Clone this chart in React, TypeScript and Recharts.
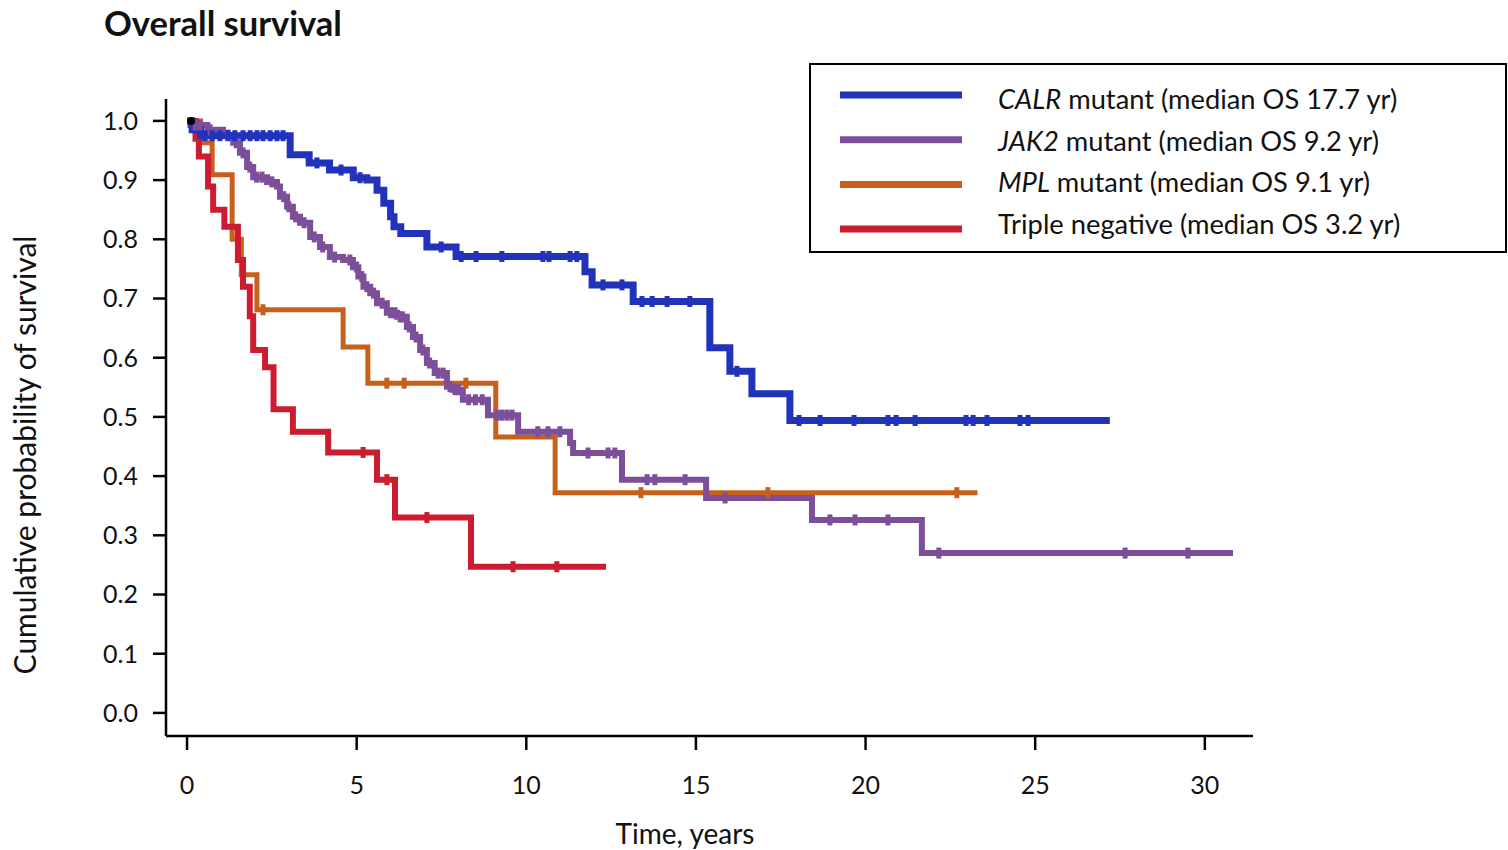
import React from 'react';
import { ComposedChart, Line, Scatter, XAxis, YAxis, Label, ReferenceDot } from 'recharts';

// ---- data (time in years, cumulative survival) ----
const calrSteps = [
  { t: 0, s: 1 }, { t: 0.15, s: 0.985 }, { t: 0.4, s: 0.975 }, { t: 3.04, s: 0.943 },
  { t: 3.6, s: 0.929 }, { t: 4.2, s: 0.917 }, { t: 4.9, s: 0.904 }, { t: 5.3, s: 0.9 },
  { t: 5.6, s: 0.883 }, { t: 5.8, s: 0.861 }, { t: 6.0, s: 0.838 }, { t: 6.1, s: 0.821 },
  { t: 6.3, s: 0.81 }, { t: 7.07, s: 0.787 }, { t: 7.93, s: 0.771 }, { t: 11.73, s: 0.745 },
  { t: 11.94, s: 0.723 }, { t: 13.15, s: 0.695 }, { t: 15.41, s: 0.617 }, { t: 16.0, s: 0.577 },
  { t: 16.65, s: 0.539 }, { t: 17.77, s: 0.494 }, { t: 27.2, s: 0.494 },
];
const calrCensor = [
  0.53, 0.74, 0.97, 1.21, 1.41, 1.65, 1.86, 2.06, 2.24, 2.45, 2.65, 2.83, 3.83, 4.54, 5.1,
  7.49, 8.08, 8.52, 9.28, 10.49, 10.67, 11.29, 11.49, 12.26, 12.82, 13.41, 13.71, 14.15, 14.82,
  16.21, 18.04, 18.66, 19.66, 20.66, 20.9, 21.46, 22.96, 23.17, 23.58, 24.55, 24.79,
];

const jak2Steps = [
  { t: 0, s: 1 }, { t: 0.1, s: 0.993 }, { t: 0.6, s: 0.985 }, { t: 1.06, s: 0.976 },
  { t: 1.36, s: 0.963 }, { t: 1.56, s: 0.946 }, { t: 1.77, s: 0.922 }, { t: 1.95, s: 0.905 },
  { t: 2.36, s: 0.897 }, { t: 2.65, s: 0.889 }, { t: 2.74, s: 0.872 }, { t: 2.95, s: 0.855 },
  { t: 3.12, s: 0.838 }, { t: 3.33, s: 0.828 }, { t: 3.63, s: 0.804 }, { t: 3.92, s: 0.787 },
  { t: 4.21, s: 0.77 }, { t: 4.6, s: 0.765 }, { t: 4.89, s: 0.753 }, { t: 5.05, s: 0.737 },
  { t: 5.2, s: 0.72 }, { t: 5.4, s: 0.709 }, { t: 5.6, s: 0.692 }, { t: 5.89, s: 0.676 },
  { t: 6.19, s: 0.669 }, { t: 6.48, s: 0.652 }, { t: 6.66, s: 0.635 }, { t: 6.87, s: 0.613 },
  { t: 7.07, s: 0.591 }, { t: 7.3, s: 0.574 }, { t: 7.66, s: 0.551 }, { t: 7.84, s: 0.546 },
  { t: 8.13, s: 0.529 }, { t: 8.87, s: 0.503 }, { t: 9.76, s: 0.475 }, { t: 11.29, s: 0.456 },
  { t: 11.38, s: 0.439 }, { t: 12.82, s: 0.394 }, { t: 15.3, s: 0.363 }, { t: 18.42, s: 0.326 },
  { t: 21.66, s: 0.27 }, { t: 30.83, s: 0.27 },
];
const jak2Censor = [
  0.24, 0.38, 0.68, 1.2, 1.45, 1.65, 1.85, 2.05, 2.21, 2.5, 2.85, 3.0, 3.2, 3.45, 3.75, 4.0,
  4.35, 4.8, 5.0, 5.15, 5.3, 5.5, 5.75, 6.0, 6.13, 6.28, 6.35, 6.55, 6.75, 6.95, 7.15, 7.4,
  7.55, 7.75, 7.9, 8.0, 8.3, 8.5, 8.7, 9.14, 9.28, 9.43, 9.58, 10.34, 10.64, 10.99,
  11.82, 12.41, 12.61, 13.56, 13.79, 14.68, 15.86, 18.95, 19.69, 20.66, 22.16, 27.65, 29.5,
];

const mplSteps = [
  { t: 0, s: 1 }, { t: 0.4, s: 0.963 }, { t: 0.74, s: 0.909 }, { t: 1.33, s: 0.8 },
  { t: 1.6, s: 0.74 }, { t: 2.06, s: 0.681 }, { t: 4.6, s: 0.618 }, { t: 5.33, s: 0.557 },
  { t: 9.1, s: 0.466 }, { t: 10.85, s: 0.372 }, { t: 23.3, s: 0.372 },
];
const mplCensor = [2.24, 5.89, 6.4, 8.22, 13.38, 17.12, 22.69];

const tnSteps = [
  { t: 0, s: 1 }, { t: 0.25, s: 0.97 }, { t: 0.35, s: 0.94 }, { t: 0.62, s: 0.889 },
  { t: 0.77, s: 0.85 }, { t: 1.1, s: 0.821 }, { t: 1.5, s: 0.765 }, { t: 1.65, s: 0.72 },
  { t: 1.85, s: 0.67 }, { t: 1.95, s: 0.613 }, { t: 2.3, s: 0.584 }, { t: 2.55, s: 0.513 },
  { t: 3.12, s: 0.475 }, { t: 4.16, s: 0.44 }, { t: 5.6, s: 0.394 }, { t: 6.13, s: 0.33 },
  { t: 8.37, s: 0.247 }, { t: 12.35, s: 0.247 },
];
const tnCensor = [5.19, 5.89, 7.07, 9.61, 10.9];

const xTicks = [0, 5, 10, 15, 20, 25, 30];
const yTicks = [0, 0.1, 0.2, 0.3, 0.4, 0.5, 0.6, 0.7, 0.8, 0.9, 1.0];

const legendItalic = ['CALR', 'JAK2', 'MPL', ''];
const legendRest = [
  ' mutant (median OS 17.7 yr)',
  ' mutant (median OS 9.2 yr)',
  ' mutant (median OS 9.1 yr)',
  'Triple negative (median OS 3.2 yr)',
];
const colors = ['#2233bb', '#7d4f9b', '#c8601c', '#cc1c2f'];
const widths = [7, 6, 5, 6];

const stepsList = [calrSteps, jak2Steps, mplSteps, tnSteps];
const censorList = [calrCensor, jak2Censor, mplCensor, tnCensor];

function levelAt(steps: { t: number; s: number }[], c: number) {
  let s = steps[0].s;
  for (const p of steps) if (p.t <= c) s = p.s;
  return s;
}

const FONT = 'Lato, "Noto Sans", sans-serif';
const drawOrder = [2, 3, 1, 0];

export default function App() {
  return (
    <div style={{ position: 'absolute', left: 0, top: 0, width: 1508, height: 850, background: '#fff' }}>
      <ComposedChart
        width={1508}
        height={850}
        margin={{ top: 99, right: 255, bottom: 0, left: 0 }}
      >
        <XAxis
          type="number"
          dataKey="t"
          domain={[-0.62, 31.42]}
          ticks={xTicks}
          allowDataOverflow
          height={114}
          tickSize={14}
          tickMargin={26}
          axisLine={{ stroke: '#000', strokeWidth: 2.5 }}
          tickLine={{ stroke: '#000', strokeWidth: 2.5 }}
          tick={{ fill: '#111', fontSize: 25, fontFamily: FONT }}
        >
          <Label
            content={() => (
              <text x={685} y={844} textAnchor="middle" fill="#111" fontSize={28} fontFamily={FONT}>
                Time, years
              </text>
            )}
          />
        </XAxis>
        <YAxis
          type="number"
          dataKey="s"
          domain={[-0.039, 1.037]}
          ticks={yTicks}
          allowDataOverflow
          width={166}
          tickSize={13}
          tickMargin={15}
          tickFormatter={(v: number) => v.toFixed(1)}
          axisLine={{ stroke: '#000', strokeWidth: 2.5 }}
          tickLine={{ stroke: '#000', strokeWidth: 2.5 }}
          tick={{ fill: '#111', fontSize: 25, fontFamily: FONT }}
        >
          <Label
            content={() => (
              <text
                x={24}
                y={455}
                transform="rotate(-90 24 455)"
                textAnchor="middle"
                dominantBaseline="central"
                fill="#111"
                fontSize={30}
                fontFamily={FONT}
              >
                Cumulative probability of survival
              </text>
            )}
          />
        </YAxis>
        {drawOrder.map((i) => (
          <Line
            key={'l' + i}
            data={stepsList[i]}
            dataKey="s"
            type="stepAfter"
            stroke={colors[i]}
            strokeWidth={widths[i]}
            dot={false}
            activeDot={false}
            isAnimationActive={false}
          />
        ))}
        {drawOrder.map((i) => (
          <Scatter
            key={'c' + i}
            data={censorList[i].map((c) => ({ t: c, s: levelAt(stepsList[i], c) }))}
            isAnimationActive={false}
            shape={(p: any) => (
              <rect x={p.cx - 2.5} y={p.cy - 5.5} width={5} height={11} fill={colors[i]} />
            )}
          />
        ))}
        <ReferenceDot x={0.12} y={1} r={4} fill="#000" stroke="none" />
      </ComposedChart>
      <svg
        width={1508}
        height={850}
        style={{ position: 'absolute', left: 0, top: 0, pointerEvents: 'none' }}
      >
        <text x={104} y={36} fontSize={34.5} fontWeight="bold" fontFamily={FONT} fill="#111">
          Overall survival
        </text>
        <rect x={810} y={64} width={696} height={188} fill="#fff" stroke="#000" strokeWidth={2} />
        {legendRest.map((r, i) => (
          <g key={i}>
            <line x1={840} x2={962} y1={95 + i * 44.7} y2={95 + i * 44.7} stroke={colors[i]} strokeWidth={7} />
            <text x={998} y={109 + i * 41.7} fontSize={27.3} fontFamily={FONT} fill="#111">
              {legendItalic[i] ? <tspan fontStyle="italic">{legendItalic[i]}</tspan> : null}
              <tspan>{r}</tspan>
            </text>
          </g>
        ))}
      </svg>
    </div>
  );
}
